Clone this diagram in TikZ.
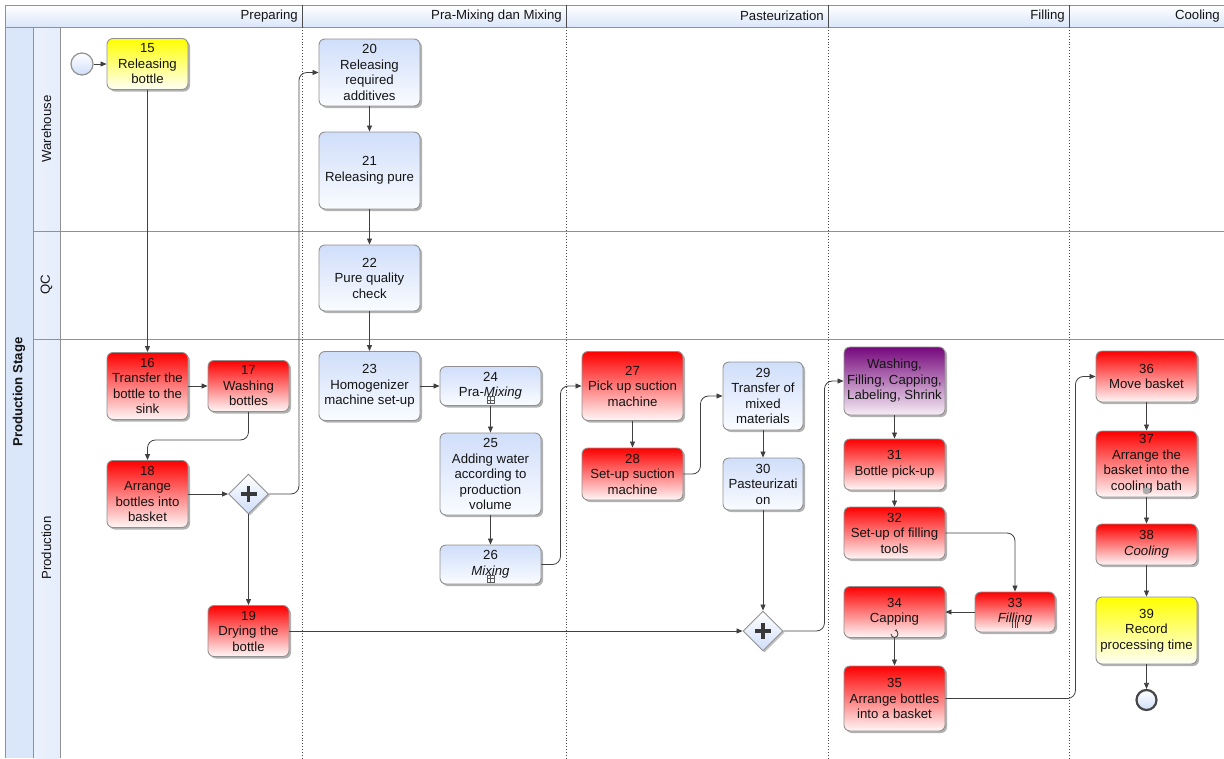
\documentclass[tikz,border=0pt]{standalone}
\usepackage{fontspec}
\setmainfont{Liberation Sans}
\usetikzlibrary{shapes.geometric,arrows.meta,shadows,calc}

\definecolor{edgec}{RGB}{64,64,64}
\definecolor{bordc}{RGB}{145,145,145}
\definecolor{bluetop}{RGB}{208,222,250}
\definecolor{bluebot}{RGB}{250,252,255}
\definecolor{laneblue}{RGB}{218,230,250}
\definecolor{lanelight}{RGB}{236,242,252}
\definecolor{purptop}{RGB}{118,8,124}
\definecolor{purpbot}{RGB}{246,238,246}
\definecolor{txt}{RGB}{20,20,20}

\tikzset{
  x=1pt, y=-1pt,
  lbl/.style={font=\fontsize{13.2}{15.5}\selectfont, text=txt, inner sep=1pt},
  task/.style={draw=bordc, line width=0.9pt, rounded corners=6pt, align=center,
    inner sep=2pt, font=\fontsize{13.2}{15.5}\selectfont, text=txt,
    drop shadow={shadow xshift=2pt, shadow yshift=-2pt, opacity=0.3, fill=black}},
  redbox/.style={task, top color=red, bottom color=red!3},
  yelbox/.style={task, top color=yellow, bottom color=yellow!3},
  bluebox/.style={task, top color=bluetop, bottom color=bluebot},
  purbox/.style={task, top color=purptop, bottom color=purpbot},
  gateway/.style={diamond, aspect=1, minimum width=40pt, minimum height=40pt, inner sep=0pt,
    draw=bordc, line width=0.9pt, top color=white, bottom color=bluetop,
    drop shadow={shadow xshift=1.5pt, shadow yshift=-1.5pt, opacity=0.25, fill=black},
    path picture={\draw[line width=3.2pt, gray!45!black]
      ($(path picture bounding box.center)+(-8pt,0pt)$) -- ($(path picture bounding box.center)+(8pt,0pt)$)
      ($(path picture bounding box.center)+(0pt,-8pt)$) -- ($(path picture bounding box.center)+(0pt,8pt)$);}},
  startev/.style={circle, minimum size=22pt, inner sep=0pt, draw=bordc, line width=1.2pt,
    top color=white, bottom color=bluetop},
  endev/.style={circle, minimum size=20pt, inner sep=0pt, draw=gray!55!black, line width=2.2pt,
    top color=white, bottom color=bluetop},
  flow/.style={draw=edgec, line width=0.8pt, -{Triangle[length=6pt,width=5pt]}, rounded corners=8pt},
  mkline/.style={draw=gray!70!black, line width=0.5pt}
}

\begin{document}
\begin{tikzpicture}
\useasboundingbox (0,0) rectangle (1224,758);

% ---- pool and lanes ----
\fill[laneblue] (5,27) rectangle (33,758);
\shade[left color=lanelight, right color=laneblue!70] (33,27) rectangle (60,758);
\shade[top color=white, bottom color=laneblue] (5,5) rectangle (1224,27);
\draw[bordc, line width=0.8pt] (5,5) -- (1224,5) (5,27) -- (1224,27)
  (5,5) -- (5,758) (33,27) -- (33,758) (60,27) -- (60,758)
  (33,231) -- (1224,231) (33,339) -- (1224,339);
\draw[gray!60!black, line width=0.8pt] (302,5) -- (302,27) (566,5) -- (566,27)
  (828,5) -- (828,27) (1069,5) -- (1069,27);
\draw[gray!60!black, dotted, line width=0.9pt] (302,27) -- (302,758) (566,27) -- (566,758)
  (828,27) -- (828,758) (1069,27) -- (1069,758);

\node[lbl, anchor=east] (h1) at (299,16) {Preparing};
\node[lbl, anchor=east] (h2) at (563,16) {Pra-Mixing dan Mixing};
\node[lbl, anchor=east] (h3) at (825,16) {Pasteurization};
\node[lbl, anchor=east] (h4) at (1066,16) {Filling};
\node[lbl, anchor=east] (h5) at (1221,16) {Cooling};

\node[lbl, rotate=90, font=\fontsize{13.2}{15.5}\selectfont\bfseries] (pool) at (19,392) {Production Stage};
\node[lbl, rotate=90] (lw) at (46.5,129) {Warehouse};
\node[lbl, rotate=90] (lq) at (46.5,285) {QC};
\node[lbl, rotate=90] (lp) at (46.5,548) {Production};

% ---- nodes ----
\node[startev] (start) at (82,64) {};
\node[yelbox, minimum width=81pt, minimum height=51pt] (n15) at (147.5,64) {15\\Releasing\\bottle};
\node[redbox, minimum width=81pt, minimum height=67pt] (n16) at (147.5,386) {16\\Transfer the\\bottle to the\\sink};
\node[redbox, minimum width=81pt, minimum height=51pt] (n17) at (248.5,386) {17\\Washing\\bottles};
\node[redbox, minimum width=81pt, minimum height=67pt] (n18) at (147.5,494) {18\\Arrange\\bottles into\\basket};
\node[gateway] (g1) at (248.5,494) {};
\node[redbox, minimum width=81pt, minimum height=51pt] (n19) at (248.5,631) {19\\Drying the\\bottle};

\node[bluebox, minimum width=101pt, minimum height=67pt] (n20) at (369.5,72.5) {20\\Releasing\\required\\additives};
\node[bluebox, minimum width=101pt, minimum height=77pt] (n21) at (369.5,170.5) {21\\Releasing pure};
\node[bluebox, minimum width=101pt, minimum height=66pt] (n22) at (369.5,278) {22\\Pure quality\\check};
\node[bluebox, minimum width=101pt, minimum height=69pt] (n23) at (369.5,386) {23\\Homogenizer\\machine set-up};
\node[bluebox, minimum width=101pt, minimum height=39pt] (n24) at (490.5,386) {24\\Pra-\textit{Mixing}};
\node[bluebox, minimum width=101pt, minimum height=82pt] (n25) at (490.5,474) {25\\Adding water\\according to\\production\\volume};
\node[bluebox, minimum width=101pt, minimum height=39pt] (n26) at (490.5,564.5) {26\\\textit{Mixing}};

\node[redbox, minimum width=101pt, minimum height=69pt] (n27) at (632.5,386) {27\\Pick up suction\\machine};
\node[redbox, minimum width=101pt, minimum height=52pt] (n28) at (632.5,474) {28\\Set-up suction\\machine};
\node[bluebox, minimum width=80pt, minimum height=68pt] (n29) at (763,396) {29\\Transfer of\\mixed\\materials};
\node[bluebox, minimum width=80pt, minimum height=52pt] (n30) at (763,484) {30\\Pasteurizati\\on};
\node[gateway] (g2) at (763,631) {};

\node[purbox, minimum width=101pt, minimum height=68pt] (np) at (894.5,381) {Washing,\\Filling, Capping,\\Labeling, Shrink};
\node[redbox, minimum width=101pt, minimum height=51pt] (n31) at (894.5,464.5) {31\\Bottle pick-up};
\node[redbox, minimum width=101pt, minimum height=52pt] (n32) at (894.5,533) {32\\Set-up of filling\\tools};
\node[redbox, minimum width=80pt, minimum height=40pt] (n33) at (1015,612) {33\\\textit{Filling}};
\node[redbox, minimum width=101pt, minimum height=51pt] (n34) at (894.5,612) {34\\Capping};
\node[redbox, minimum width=101pt, minimum height=65pt] (n35) at (894.5,698.5) {35\\Arrange bottles\\into a basket};

\node[redbox, minimum width=101pt, minimum height=51pt] (n36) at (1146.5,376.5) {36\\Move basket};
\node[redbox, minimum width=101pt, minimum height=66pt] (n37) at (1146.5,464) {37\\Arrange the\\basket into the\\cooling bath};
\node[redbox, minimum width=101pt, minimum height=41pt] (n38) at (1146.5,544.5) {38\\\textit{Cooling}};
\node[yelbox, minimum width=101pt, minimum height=67pt] (n39) at (1146.5,630.5) {39\\Record\\processing time};
\node[endev] (end) at (1146.5,700) {};

% ---- task markers ----
\draw[mkline] ($(n24.south)+(-3.5,-9.5)$) rectangle ($(n24.south)+(3.5,-2.5)$)
  ($(n24.south)+(0,-9.5)$) -- ($(n24.south)+(0,-2.5)$)
  ($(n24.south)+(-3.5,-6)$) -- ($(n24.south)+(3.5,-6)$);
\draw[mkline] ($(n26.south)+(-3.5,-9.5)$) rectangle ($(n26.south)+(3.5,-2.5)$)
  ($(n26.south)+(0,-9.5)$) -- ($(n26.south)+(0,-2.5)$)
  ($(n26.south)+(-3.5,-6)$) -- ($(n26.south)+(3.5,-6)$);
\draw[gray!55!black, line width=0.9pt] ($(n33.south)+(-2.5,-10)$) -- ($(n33.south)+(-2.5,-4)$)
  ($(n33.south)+(0,-10)$) -- ($(n33.south)+(0,-4)$)
  ($(n33.south)+(2.5,-10)$) -- ($(n33.south)+(2.5,-4)$);
\draw[gray!55!black, line width=0.9pt, -{Stealth[length=2.5pt,width=2.5pt]}]
  ($(n34.south)+(-3.5,-4)$) arc[start angle=180, end angle=-90, radius=3.5];
\fill[gray!65] ($(n37.south)+(-4,-9)$) -- ($(n37.south)+(2,-10)$) -- ($(n37.south)+(4,-6)$)
  -- ($(n37.south)+(1,-3)$) -- ($(n37.south)+(-3,-4)$) -- cycle;

% ---- connectors ----
\draw[flow] (start) -- (n15);
\draw[flow] (n15) -- (n16);
\draw[flow] (n16) -- (n17);
\draw[flow] (n17.south) -- ++(0,28) -| (n18.north);
\draw[flow] (n18) -- (g1);
\draw[flow] (g1.east) -- ++(30,0) |- (n20.west);
\draw[flow] (g1.south) -- (n19.north);
\draw[flow] (n20) -- (n21);
\draw[flow] (n21) -- (n22);
\draw[flow] (n22) -- (n23);
\draw[flow] (n23) -- (n24);
\draw[flow] (n24) -- (n25);
\draw[flow] (n25) -- (n26);
\draw[flow] (n26.east) -- ++(19,0) |- (n27.west);
\draw[flow] (n27) -- (n28);
\draw[flow] (n28.east) -- ++(17,0) |- (n29.west);
\draw[flow] (n29) -- (n30);
\draw[flow] (n30) -- (g2);
\draw[flow] (n19.east) -- (g2.west);
\draw[flow] (g2.east) -- ++(41,0) |- (np.west);
\draw[flow] (np) -- (n31);
\draw[flow] (n31) -- (n32);
\draw[flow] (n32.east) -| (n33.north);
\draw[flow] (n33) -- (n34);
\draw[flow] (n34) -- (n35);
\draw[flow] (n35.east) -- ++(130,0) |- (n36.west);
\draw[flow] (n36) -- (n37);
\draw[flow] (n37) -- (n38);
\draw[flow] (n38) -- (n39);
\draw[flow] (n39) -- (end);
\end{tikzpicture}
\end{document}
